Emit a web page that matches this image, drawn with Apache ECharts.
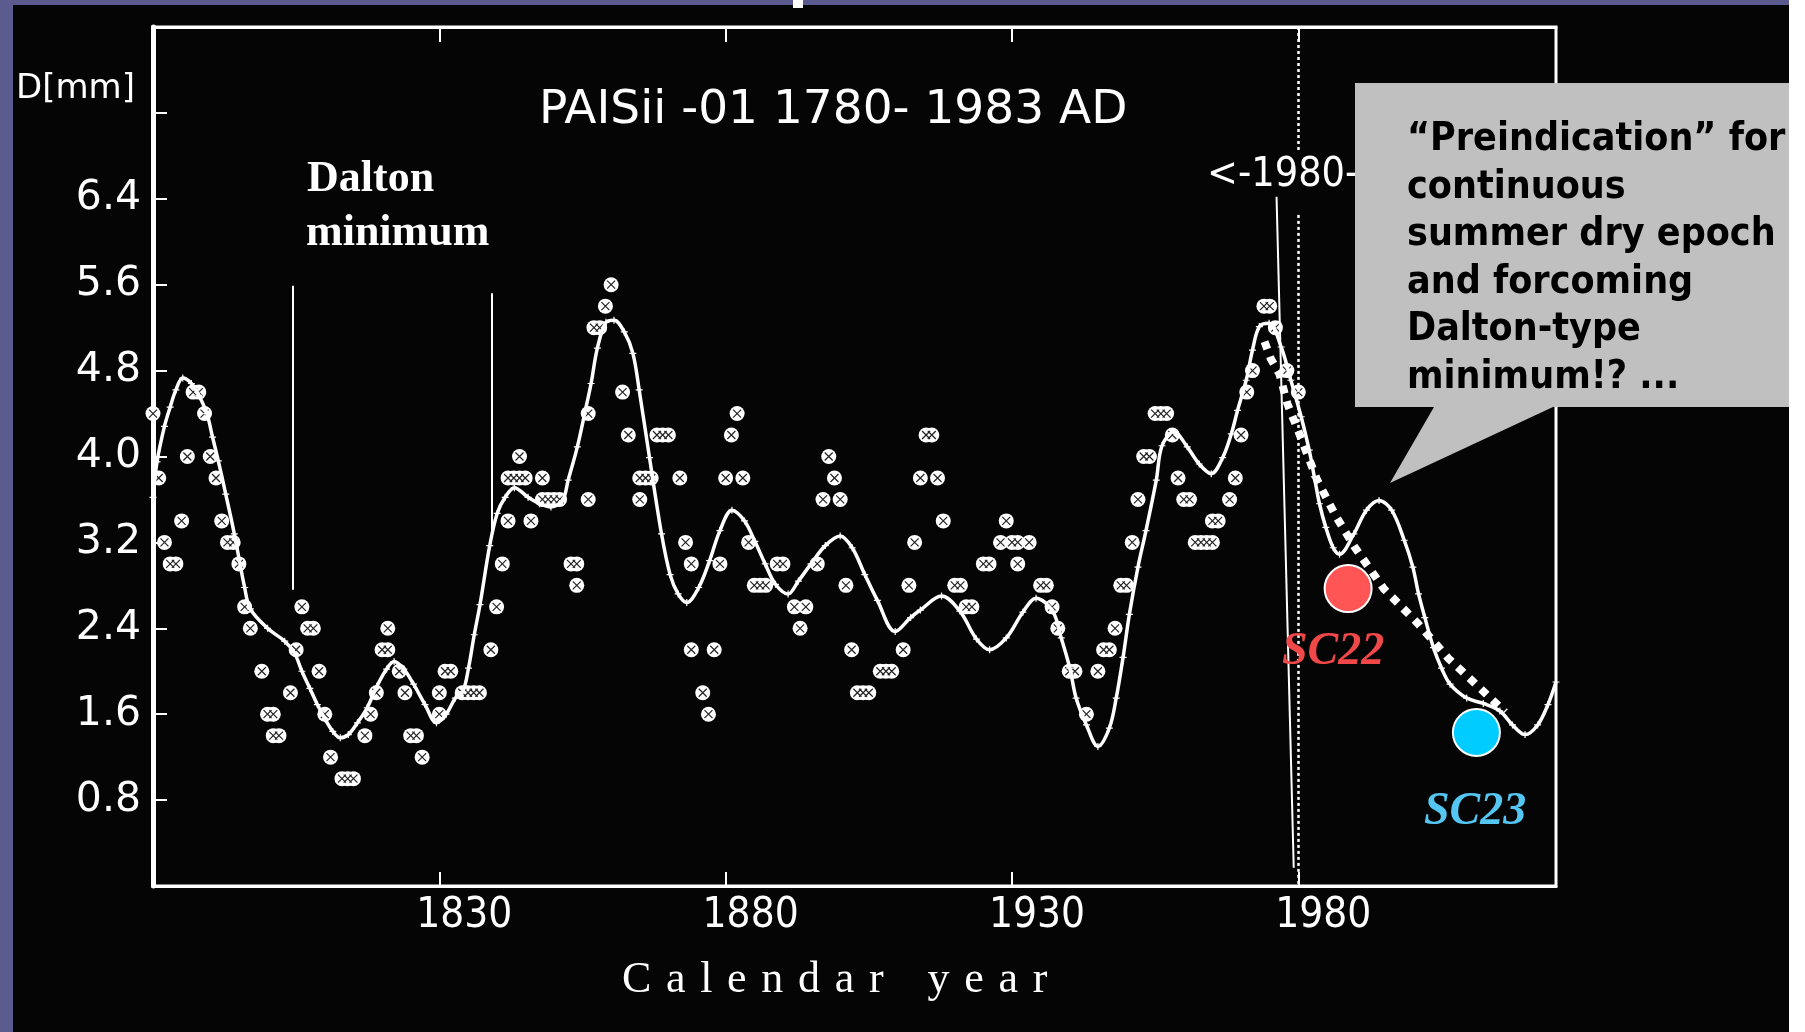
<!DOCTYPE html>
<html>
<head>
<meta charset="utf-8">
<title>PAISii -01 1780-1983 AD</title>
<script src="https://cdn.jsdelivr.net/npm/echarts@6/dist/echarts.min.js"></script>
<style>
  html, body { margin: 0; padding: 0; background: #050505; }
  #chart { width: 1805px; height: 1032px; }
</style>
</head>
<body>
<div id="chart"></div>
<script>
// Annual tree-ring readings D [mm] (several cores may share a year)
const scatterYears = [
  1780,1781,1782,1783,1784,1785,1786,1787,1788,1789,1790,1791,1792,1793,1794,1795,1796,1797,1799,
  1800,1801,1801,1802,1804,1805,1806,1807,1808,1809,1810,1811,1813,1814,1815,1817,1818,1819,
  1820,1821,1821,1823,1824,1825,1826,1827,1830,1830,1831,1832,1834,1835,1836,1837,1839,
  1840,1841,1842,1842,1843,1844,1845,1844,1846,1848,1848,1849,1850,1851,1853,1854,1854,1856,1856,1857,1858,1859,
  1860,1862,1863,1865,1866,1867,1865,1868,1869,1870,1872,1873,1874,1874,1876,1877,1878,1879,
  1880,1881,1882,1883,1884,1885,1886,1887,1889,1890,1892,1894,1893,1896,1897,1898,1899,
  1900,1901,1902,1903,1904,1905,1907,1908,1909,1911,1912,1913,1914,1915,1916,1917,1918,
  1920,1921,1922,1923,1925,1926,1928,1929,1930,1931,1931,1933,1935,1936,1937,1938,
  1940,1941,1943,1945,1946,1947,1948,1949,1950,1951,1952,1953,1954,1955,1956,1957,1958,1959,
  1960,1961,1962,1963,1964,1965,1965,1966,1968,1969,1970,1971,1972,1974,1975,1976,1978,1980
];
const scatterValues = [
  4.4,3.8,3.2,3.0,3.0,3.4,4.0,4.6,4.6,4.4,4.0,3.8,3.4,3.2,3.2,3.0,2.6,2.4,2.0,
  1.6,1.6,1.4,1.4,1.8,2.2,2.6,2.4,2.4,2.0,1.6,1.2,1.0,1.0,1.0,1.4,1.6,1.8,
  2.2,2.2,2.4,2.0,1.8,1.4,1.4,1.2,1.8,1.6,2.0,2.0,1.8,1.8,1.8,1.8,2.2,
  2.6,3.0,3.4,3.8,3.8,3.8,3.8,4.0,3.4,3.8,3.6,3.6,3.6,3.6,3.0,3.0,2.8,3.6,4.4,5.2,5.2,5.4,
  5.6,4.6,4.2,3.8,3.8,3.8,3.6,4.2,4.2,4.2,3.8,3.2,3.0,2.2,1.8,1.6,2.2,3.0,
  3.8,4.2,4.4,3.8,3.2,2.8,2.8,2.8,3.0,3.0,2.6,2.6,2.4,3.0,3.6,4.0,3.8,
  3.6,2.8,2.2,1.8,1.8,1.8,2.0,2.0,2.0,2.2,2.8,3.2,3.8,4.2,4.2,3.8,3.4,
  2.8,2.8,2.6,2.6,3.0,3.0,3.2,3.4,3.2,3.2,3.0,3.2,2.8,2.8,2.6,2.4,
  2.0,2.0,1.6,2.0,2.2,2.2,2.4,2.8,2.8,3.2,3.6,4.0,4.0,4.4,4.4,4.4,4.2,3.8,
  3.6,3.6,3.2,3.2,3.2,3.2,3.4,3.4,3.6,3.8,4.2,4.6,4.8,5.4,5.4,5.2,4.8,4.6
];

// Smoothed ring-width curve, extended beyond 1983
const curveYears = [
  1780,1780.7,1782,1783,1784,1785.2,1786.7,1788,1789.4,1790.4,1791.4,1792.7,1794.2,1796,1797,
  1800,1803,1804.7,1806,1807.4,1808.7,1810.1,1811.4,1812.7,1814.1,1815.7,1817.4,1819.1,
  1820.8,1822.1,1823.8,1825.5,1827.5,1829.5,1831.2,1832.8,1834.1,1835.1,1836.1,1837.1,1838.8,
  1840.1,1841.5,1843.1,1845.5,1847.5,1849.5,1851.5,1852.5,1854.1,1855.5,1856.5,1857.6,1859.1,
  1860.5,1862.3,1863.8,1864.9,1866.7,1868.8,1870.3,1871.7,1873.2,1875.3,1877.2,1879,
  1881.1,1883.3,1885.1,1886.9,1888.7,1890.9,1892.7,1894.9,1897.4,
  1900,1902.1,1904.3,1906.5,1909.6,1912.3,1914,1917.7,
  1920.9,1923.8,1926.1,1929,1931.9,1934.2,1937.1,1938.6,
  1940.1,1941.2,1943,1945,1947,1948.2,1949.4,1950.5,1952,1953.4,1955.2,1956.2,1958.3,
  1960.6,1962.7,1964.8,1966.8,1968.3,1969.4,1970.9,1972,1973.2,1974.9,1977,1978.7,
  1980.5,1981.9,1982.8,1983.7,1984.8,1986.1,1987.2,1989.7,1991.9,1994.1,1996.3,1998.5,
  2000,2001,2002.1,2003.6,2005,2006.5,2009.4,2012.3,2015.2,2017.4,2019.6,2021.8,2023.6,2025
];
const curveValues = [
  3.62,3.95,4.28,4.46,4.62,4.73,4.68,4.57,4.40,4.18,3.96,3.65,3.28,2.78,2.58,
  2.40,2.28,2.17,2.00,1.84,1.69,1.55,1.44,1.38,1.41,1.52,1.66,1.86,
  2.02,2.09,2.02,1.88,1.69,1.52,1.60,1.75,1.81,2.03,2.34,2.62,3.17,
  3.47,3.62,3.71,3.62,3.56,3.53,3.59,3.78,4.09,4.43,4.68,5.01,5.25,
  5.27,5.16,4.96,4.62,3.99,3.28,2.90,2.72,2.64,2.78,3.03,3.31,
  3.50,3.40,3.21,3.00,2.81,2.72,2.84,3.00,3.17,
  3.26,3.15,2.90,2.66,2.37,2.50,2.57,2.70,
  2.56,2.30,2.20,2.31,2.55,2.68,2.56,2.31,
  2.03,1.75,1.50,1.30,1.47,1.75,2.13,2.53,2.97,3.31,3.78,4.10,4.23,
  4.09,3.93,3.84,3.99,4.21,4.43,4.71,4.99,5.21,5.24,5.02,4.71,
  4.37,4.06,3.81,3.56,3.34,3.15,3.09,3.28,3.50,3.59,3.50,3.22,
  2.97,2.72,2.50,2.22,2.03,1.88,1.75,1.70,1.63,1.50,1.41,1.50,1.69,1.90
];

// Expected decline after the 1975 maximum
const trendYears  = [1974.1,1975.2,1976.7,1978.1,1980.2,1983.3,1986.5,1989.8,1994.9,2000.8,2006.2,2010.2,2016.1];
const trendValues = [5.07,4.91,4.77,4.49,4.21,3.78,3.45,3.16,2.77,2.45,2.12,1.92,1.62];

// Solar cycles 22 and 23
const cycleNames  = ['SC22', 'SC23'];
const cycleYears  = [1988.7, 2011.1];
const cycleValues = [2.77, 1.43];
const cycleColors = ['#ff5555', '#00ccff'];

// Axis ticks and labels
const xTickYears   = [1830, 1880, 1930, 1980];
const yTickLabels  = [0.8, 1.6, 2.4, 3.2, 4.0, 4.8, 5.6, 6.4];
const yTickMarks   = [0.8, 1.6, 2.4, 3.2, 4.0, 4.8, 5.6, 6.4, 7.2];

// Dalton minimum bounds: [year, value from, value to]
const daltonBounds = [[1804.4, 5.59, 2.76], [1839.2, 5.52, 3.25]];

const pair = (xs, ys) => xs.map((x, i) => [x, ys[i]]);
const scatterData = pair(scatterYears, scatterValues);

const white = '#ffffff';
const sansCond = "'DejaVu Sans Condensed', 'Liberation Sans Narrow', 'DejaVu Sans', sans-serif";

const chart = echarts.init(document.getElementById('chart'), null, { renderer: 'canvas' });

const markLines = [];
daltonBounds.forEach(([yr, a, b]) => {
  markLines.push([
    { coord: [yr, a], lineStyle: { color: white, width: 2, type: 'solid' } },
    { coord: [yr, b] }
  ]);
});
// thin pointer line from the 1980 label down to the axis
markLines.push([
  { coord: [1976.2, 6.42], lineStyle: { color: white, width: 2, type: 'solid' } },
  { coord: [1979.2, 0.17] }
]);
// dotted marker of 1980, interrupted by its label
markLines.push([
  { coord: [1980, 8.0], lineStyle: { color: white, width: 2.5, type: [3, 3] } },
  { coord: [1980, 6.85] }
]);
markLines.push([
  { coord: [1980, 6.25], lineStyle: { color: white, width: 2.5, type: [3, 3] } },
  { coord: [1980, 0] }
]);

function txt(text, x, y, font, fill, align, vAlign, z) {
  return {
    type: 'text', z: z || 50, silent: true,
    style: {
      text: text, x: x, y: y, font: font, fill: fill,
      textAlign: align || 'left', align: align || 'left',
      textVerticalAlign: vAlign || 'middle', verticalAlign: vAlign || 'middle'
    }
  };
}

const calloutLines = [
  '\u201CPreindication\u201D for',
  'continuous',
  'summer dry epoch',
  'and forcoming',
  'Dalton-type',
  'minimum!? ...'
];
const calloutFont = "bold 39px 'DejaVu Sans Condensed', 'DejaVu Sans', sans-serif";

const graphics = [
  { type: 'rect', z: 1, silent: true, shape: { x: 0, y: 0, width: 13, height: 1032 }, style: { fill: '#5b5b8f' } },
  { type: 'rect', z: 1, silent: true, shape: { x: 0, y: 0, width: 1805, height: 5 }, style: { fill: '#5b5b8f' } },
  { type: 'rect', z: 1, silent: true, shape: { x: 793, y: 0, width: 10, height: 8 }, style: { fill: white } },
  { type: 'rect', z: 1, silent: true, shape: { x: 1789, y: 0, width: 16, height: 1032 }, style: { fill: white } },

  txt('PAISii -01 1780- 1983 AD', 539, 111, "47px 'DejaVu Sans', sans-serif", white),
  txt('D[mm]', 16, 89, "34px 'DejaVu Sans', sans-serif", white),
  txt('Dalton', 307, 180, "bold 44px 'Liberation Serif', serif", white),
  txt('minimum', 306, 234, "bold 44px 'Liberation Serif', serif", white),
  txt('<-1980-', 1207, 175, "41px " + sansCond, white),
  txt('C\u2004a\u2004l\u2004e\u2004n\u2004d\u2004a\u2004r\u2004\u2004\u2004y\u2004e\u2004a\u2004r', 622, 980, "44px 'Liberation Serif', serif", white),
  txt('SC22', 1282, 652, "italic bold 46px 'Liberation Serif', serif", '#f04848'),
  txt('SC23', 1424, 812, "italic bold 46px 'Liberation Serif', serif", '#55c5f2'),

  {
    type: 'polygon', z: 100, silent: true,
    shape: { points: [[1355, 83], [1789, 83], [1789, 407], [1553, 407], [1390, 483], [1434, 407], [1355, 407]] },
    style: { fill: '#c0c0c0' }
  }
].concat(calloutLines.map((t, i) => txt(t, 1407, 140 + i * 47.5, calloutFont, '#000000', 'left', 'middle', 101)));

const option = {
  backgroundColor: '#050505',
  animation: false,
  grid: {
    left: 153, top: 27, width: 1403, height: 859,
    show: true, borderColor: white, borderWidth: 3, backgroundColor: 'transparent'
  },
  xAxis: [
    {
      type: 'value', position: 'bottom', min: 1780, max: 2025,
      axisLine: { show: true, onZero: false, lineStyle: { color: white, width: 3 } },
      axisTick: { show: true, inside: true, length: 14, customValues: xTickYears, lineStyle: { color: white, width: 2 } },
      axisLabel: {
        show: true, customValues: xTickYears, color: white, fontSize: 42, fontFamily: sansCond,
        margin: 9, padding: [0, 0, 0, 50], formatter: v => String(v)
      },
      splitLine: { show: false }
    },
    {
      type: 'value', position: 'top', min: 1780, max: 2025,
      axisLine: { show: true, onZero: false, lineStyle: { color: white, width: 3 } },
      axisTick: { show: true, inside: true, length: 15, customValues: xTickYears, lineStyle: { color: white, width: 2 } },
      axisLabel: { show: false },
      splitLine: { show: false }
    }
  ],
  yAxis: {
    type: 'value', min: 0, max: 8, interval: 0.8,
    axisLine: { show: true, onZero: false, lineStyle: { color: white, width: 5 } },
    axisTick: { show: true, inside: true, length: 14, customValues: yTickMarks, lineStyle: { color: white, width: 2 } },
    axisLabel: {
      show: true, customValues: yTickLabels, color: white, fontSize: 41,
      fontFamily: "'DejaVu Sans', sans-serif", margin: 12, formatter: v => v.toFixed(1)
    },
    splitLine: { show: false }
  },
  series: [
    {
      name: 'rings', type: 'scatter', data: scatterData, z: 2,
      symbol: 'circle', symbolSize: 15, itemStyle: { color: white, opacity: 1 }, silent: true
    },
    {
      name: 'rings-cross', type: 'scatter', data: scatterData, z: 3,
      symbol: 'path://M0 0L10 10M10 0L0 10', symbolSize: 8,
      itemStyle: { color: '#222', borderColor: '#222', borderWidth: 1.2, opacity: 1 }, silent: true
    },
    {
      name: 'smoothed', type: 'line', data: pair(curveYears, curveValues), z: 4,
      smooth: 0.35, silent: true,
      showSymbol: true, showAllSymbol: true,
      symbol: 'path://M5 0L5 10M0 5L10 5', symbolSize: 7,
      itemStyle: { color: white, borderColor: white, borderWidth: 1.2, opacity: 1 },
      lineStyle: { color: white, width: 3.5 },
      markLine: { silent: true, symbol: ['none', 'none'], label: { show: false }, animation: false, data: markLines }
    },
    {
      name: 'decline', type: 'line', data: pair(trendYears, trendValues), z: 5,
      showSymbol: false, silent: true,
      lineStyle: { color: white, width: 8, type: [8, 8] }
    },
    {
      name: 'cycles', type: 'scatter', z: 6, silent: true, symbolSize: 47,
      data: cycleNames.map((n, i) => ({
        name: n, value: [cycleYears[i], cycleValues[i]],
        itemStyle: { color: cycleColors[i], borderColor: white, borderWidth: 2, opacity: 1 }
      }))
    }
  ],
  graphic: graphics
};

chart.setOption(option);
</script>
</body>
</html>
